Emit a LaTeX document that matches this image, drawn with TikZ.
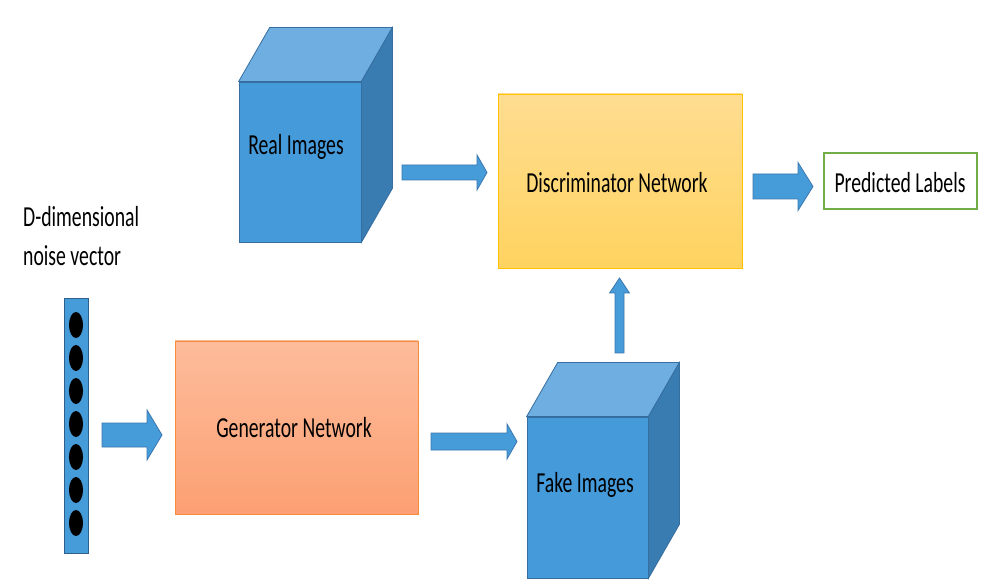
\documentclass[tikz,border=0pt]{standalone}
\usepackage{fontspec}
\newfontfamily\labelfont[FakeStretch=0.68]{Carlito}
\usetikzlibrary{calc,shapes.geometric}
\definecolor{cubefront}{RGB}{69,154,218}
\definecolor{cubetop}{RGB}{110,174,224}
\definecolor{cubeside}{RGB}{57,124,177}
\definecolor{cubeedge}{RGB}{55,110,160}
\definecolor{arrowfill}{RGB}{70,155,217}
\definecolor{arrowedge}{RGB}{60,120,175}
\definecolor{discT}{RGB}{255,221,145}
\definecolor{discB}{RGB}{255,211,96}
\definecolor{discE}{RGB}{255,192,0}
\definecolor{genT}{RGB}{253,188,155}
\definecolor{genB}{RGB}{252,160,115}
\definecolor{genE}{RGB}{245,140,60}
\definecolor{predE}{RGB}{112,173,71}
\definecolor{noiseE}{RGB}{47,95,140}
\newcommand\rblock[5]{\draw[barrow] let \p1=(#1),\p2=(#2) in
  (\x1,{\y1+#3}) -- ({\x2-#5},{\y1+#3}) -- ({\x2-#5},{\y1+#4}) -- (\x2,\y1)
  -- ({\x2-#5},{\y1-#4}) -- ({\x2-#5},{\y1-#3}) -- (\x1,{\y1-#3}) -- cycle;}
\newcommand\ublock[5]{\draw[barrow] let \p1=(#1),\p2=(#2) in
  ({\x1-#3},\y1) -- ({\x1-#3},{\y2-#5}) -- ({\x1-#4},{\y2-#5}) -- (\x1,\y2)
  -- ({\x1+#4},{\y2-#5}) -- ({\x1+#3},{\y2-#5}) -- ({\x1+#3},\y1) -- cycle;}
\newcommand\cubeparts[1]{%
  \draw[cubeface,fill=cubetop] (#1.north west) -- ++(31,-54) -- ($(#1.north east)+(31,-54)$) -- (#1.north east) -- cycle;
  \draw[cubeface,fill=cubeside] (#1.north east) -- ++(31,-54) -- ($(#1.south east)+(31,-54)$) -- (#1.south east) -- cycle;}
\begin{document}
\begin{tikzpicture}[x=1pt,y=-1pt,
  lbl/.style={font=\labelfont\fontsize{29}{35}\selectfont, inner sep=0pt, text=black},
  cubeface/.style={draw=cubeedge, line width=0.8pt, line join=miter},
  frontface/.style={cubeface, fill=cubefront, inner sep=0pt, minimum width=#1},
  barrow/.style={fill=arrowfill, draw=arrowedge, line width=0.8pt, line join=miter},
  netbox/.style={inner sep=0pt, line width=0.9pt},
  dot/.style={ellipse, fill=black, minimum width=14pt, minimum height=26pt, inner sep=0pt}]
\useasboundingbox (0,0) rectangle (999,585);
\fill[white] (0,0) rectangle (999,585);

% Real images cube
\node[frontface=122pt, minimum height=160pt] (real) at (300,162) {};
\cubeparts{real}
\node[lbl] (realtxt) at (296,147) {Real Images};

% Discriminator
\node[netbox, draw=discE, top color=discT, bottom color=discB,
  minimum width=244pt, minimum height=174pt] (disc) at (620,181) {};
\node[lbl] (disctxt) at (617,183) {Discriminator Network};

% Predicted labels
\node[netbox, line width=1.6pt, draw=predE, fill=white, minimum width=153pt, minimum height=56pt] (pred) at (900.5,181) {};
\node[lbl] (predtxt) at (900,183) {Predicted Labels};

% Noise vector
\node[lbl, anchor=base west] (noiset1) at (23,227) {D-dimensional};
\node[lbl, anchor=base west] (noiset2) at (23,266) {noise vector};
\node[draw=noiseE, fill=arrowfill, line width=0.9pt, inner sep=0pt,
  minimum width=24pt, minimum height=255pt] (noise) at (76,425.5) {};
\foreach \i in {0,...,6} {
  \node[dot] (d\i) at (76,{325+33*\i}) {};
}

% Generator
\node[netbox, draw=genE, top color=genT, bottom color=genB,
  minimum width=243pt, minimum height=173pt] (gen) at (296.5,427.5) {};
\node[lbl] (gentxt) at (294,428) {Generator Network};

% Fake images cube
\node[frontface=121pt, minimum height=161pt] (fake) at (587.5,497.5) {};
\cubeparts{fake}
\node[lbl] (faketxt) at (585,485) {Fake Images};

% Arrow end points
\coordinate (a1s) at (102,435);   \coordinate (a1e) at (162,435);
\coordinate (a2s) at (402,172.5); \coordinate (a2e) at (487,172.5);
\coordinate (a3s) at (753,186.5); \coordinate (a3e) at (813,186.5);
\coordinate (a4s) at (431,441.5); \coordinate (a4e) at (517,441.5);
\coordinate (a5s) at (619.5,353); \coordinate (a5e) at (619.5,278);

\rblock{a1s}{a1e}{12pt}{25pt}{15pt}
\rblock{a2s}{a2e}{7.5pt}{17.5pt}{10pt}
\rblock{a3s}{a3e}{12.5pt}{24pt}{15pt}
\rblock{a4s}{a4e}{8.5pt}{17.5pt}{10pt}
\ublock{a5s}{a5e}{4.5pt}{10pt}{15pt}
\end{tikzpicture}
\end{document}
